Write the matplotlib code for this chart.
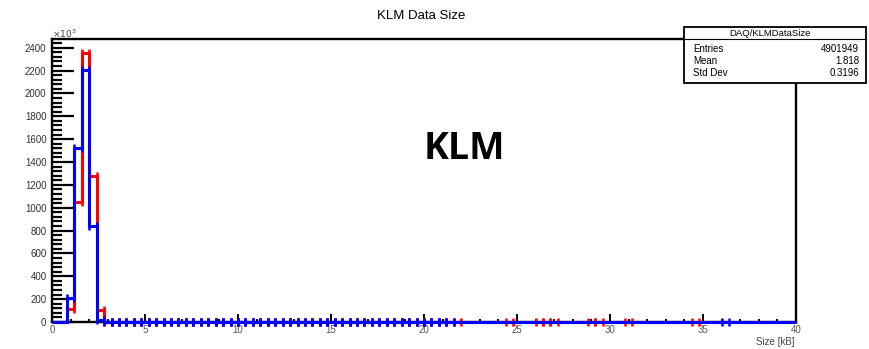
import numpy as np
import matplotlib.pyplot as plt
from matplotlib.ticker import MultipleLocator
from matplotlib.patches import Rectangle
from matplotlib.lines import Line2D

plt.rcParams['font.family'] = ['Liberation Sans', 'DejaVu Sans']

# Histogram: 100 bins from 0 to 40 kB, contents in units of 10^3
edges = np.linspace(0, 40, 101)

# red histogram (DAQ/KLMDataSize)
red_counts = [
    0, 0, 110, 1051, 2356, 1278, 108, 1.2, 0.9, 0.7,            # 0 - 4 kB
    0.6, 0.5, 0.4, 0.35, 0.3, 0.25, 0.2, 0.18, 0.15, 0.13,      # 4 - 8
    0.12, 0.1, 0.09, 0.08, 0.07, 0.06, 0.05, 0.05, 0.04, 0.04,  # 8 - 12
    0.03, 0.03, 0.03, 0.02, 0.02, 0.02, 0.02, 0.01, 0.01, 0.01, # 12 - 16
    0.01, 0.01, 0.01, 0.008, 0.008, 0.006, 0.006, 0.005, 0.005, 0.004,  # 16 - 20
    0.004, 0.003, 0.003, 0.002, 0.002, 0, 0, 0, 0, 0,           # 20 - 24
    0, 0.001, 0, 0, 0, 0.001, 0.001, 0.001, 0, 0,               # 24 - 28
    0, 0, 0.001, 0.001, 0, 0, 0, 0.001, 0, 0,                   # 28 - 32
    0, 0, 0, 0, 0, 0, 0.001, 0, 0, 0,                           # 32 - 36
    0, 0, 0, 0, 0, 0, 0, 0, 0, 0,                               # 36 - 40
]

# blue histogram
blue_counts = [
    0, 0, 210, 1518, 2204, 838, 20, 0.9, 0.7, 0.5,              # 0 - 4 kB
    0.4, 0.35, 0.3, 0.25, 0.2, 0.18, 0.15, 0.12, 0.1, 0.09,     # 4 - 8
    0.08, 0.07, 0.06, 0.05, 0.05, 0.04, 0.04, 0.03, 0.03, 0.03, # 8 - 12
    0.02, 0.02, 0.02, 0.02, 0.01, 0.01, 0.01, 0.01, 0.01, 0.008, # 12 - 16
    0.008, 0.007, 0.006, 0.005, 0.005, 0.004, 0.004, 0.003, 0.003, 0.003,  # 16 - 20
    0.002, 0.002, 0.002, 0.001, 0, 0, 0, 0, 0, 0,               # 20 - 24
    0, 0, 0, 0, 0, 0, 0, 0, 0, 0,                               # 24 - 28
    0, 0, 0, 0, 0, 0, 0, 0, 0, 0,                               # 28 - 32
    0, 0, 0, 0, 0, 0, 0, 0, 0, 0,                               # 32 - 36
    0.001, 0, 0, 0, 0, 0, 0, 0, 0, 0,                           # 36 - 40
]

stats_title = 'DAQ/KLMDataSize'
stats_rows = [('Entries', '4901949'), ('Mean', '1.818'), ('Std Dev', '0.3196')]

W, H = 869, 349
fig = plt.figure(figsize=(W / 100, H / 100), dpi=100)
ax = fig.add_axes([52 / W, 1 - 322 / H, (796 - 52) / W, (322 - 39) / H])

centers = 0.5 * (edges[:-1] + edges[1:])
for counts, col in [(red_counts, '#ff0000'), (blue_counts, '#0000ff')]:
    counts = np.array(counts, dtype=float)
    ax.stairs(counts, edges, color=col, lw=2.2, zorder=3, clip_on=False)
    m = counts > 0
    ax.errorbar(centers[m], counts[m], xerr=0.2, fmt='none', ecolor=col,
                elinewidth=2.2, capsize=3, capthick=1.8, zorder=3, clip_on=False)

ax.set_xlim(0, 40)
ax.set_ylim(0, 2476)

for s in ax.spines.values():
    s.set_linewidth(1.7)
    s.set_color('black')

ax.xaxis.set_major_locator(MultipleLocator(5))
ax.xaxis.set_minor_locator(MultipleLocator(1))
ax.yaxis.set_major_locator(MultipleLocator(200))
ax.yaxis.set_minor_locator(MultipleLocator(40))
ax.tick_params(axis='y', which='major', direction='in', length=15.5, width=1.6,
               labelsize=7, pad=4, labelcolor='#333333')
ax.tick_params(axis='y', which='minor', direction='in', length=7.5, width=1.6)
ax.tick_params(axis='x', which='major', direction='in', length=5.5, width=1.4,
               labelsize=7, pad=2, labelcolor='#555555')
ax.tick_params(axis='x', which='minor', direction='in', length=2.5, width=1.4)

def fx(px):
    return px / W

def fy(py):
    return 1 - py / H

# titles and labels
fig.text(fx(421), fy(16), 'KLM Data Size', ha='center', va='center', fontsize=9.5)
fig.text(fx(52), fy(34), r'$\times10^{3}$', ha='left', va='center', fontsize=6.5, color='#444444')
fig.text(fx(795), fy(342), 'Size [kB]', ha='right', va='center', fontsize=7, color='#444444')
fig.text(fx(464), fy(149), 'KLM', ha='center', va='center', fontsize=27,
         fontweight='bold', family=['Open Sans', 'DejaVu Sans'])

# stats box
bx0, bx1, by0, by1 = 684, 866, 27, 83
fig.patches.append(Rectangle((fx(bx0), fy(by1)), fx(bx1 - bx0), (by1 - by0) / H,
                             transform=fig.transFigure, facecolor='white',
                             edgecolor='black', lw=1.3, zorder=5))
fig.lines.append(Line2D([fx(bx0), fx(bx1)], [fy(39), fy(39)], transform=fig.transFigure,
                        color='black', lw=0.8, zorder=6))
fig.text(fx(770), fy(34), stats_title, ha='center', va='center', fontsize=6.8, zorder=7)
for i, (k, v) in enumerate(stats_rows):
    yy = 48.5 + 12.5 * i
    fig.text(fx(693), fy(yy), k, ha='left', va='center', fontsize=7, zorder=7)
    fig.text(fx(859), fy(yy), v, ha='right', va='center', fontsize=7, zorder=7)

fig.savefig('out.png', dpi=100)
